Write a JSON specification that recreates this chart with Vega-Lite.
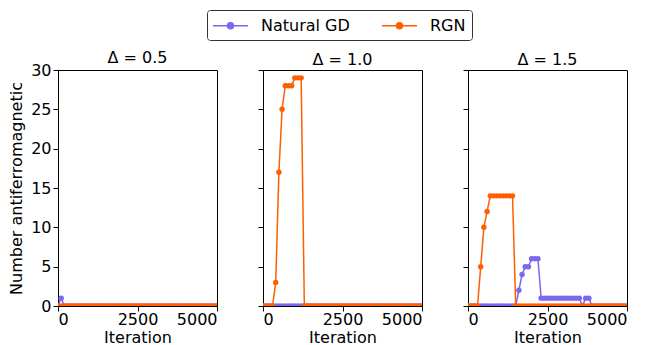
{
"$schema": "https://vega.github.io/schema/vega-lite/v6.json",
"padding": {"left": 8, "top": 9, "right": 5, "bottom": 1},
"datasets": {
"p05": [
{"method":"Natural GD","iteration":0,"count":0},{"method":"Natural GD","iteration":100,"count":1},{"method":"Natural GD","iteration":200,"count":0},{"method":"Natural GD","iteration":300,"count":0},{"method":"Natural GD","iteration":400,"count":0},{"method":"Natural GD","iteration":500,"count":0},{"method":"Natural GD","iteration":600,"count":0},{"method":"Natural GD","iteration":700,"count":0},{"method":"Natural GD","iteration":800,"count":0},{"method":"Natural GD","iteration":900,"count":0},
{"method":"Natural GD","iteration":1000,"count":0},{"method":"Natural GD","iteration":1100,"count":0},{"method":"Natural GD","iteration":1200,"count":0},{"method":"Natural GD","iteration":1300,"count":0},{"method":"Natural GD","iteration":1400,"count":0},{"method":"Natural GD","iteration":1500,"count":0},{"method":"Natural GD","iteration":1600,"count":0},{"method":"Natural GD","iteration":1700,"count":0},{"method":"Natural GD","iteration":1800,"count":0},{"method":"Natural GD","iteration":1900,"count":0},
{"method":"Natural GD","iteration":2000,"count":0},{"method":"Natural GD","iteration":2100,"count":0},{"method":"Natural GD","iteration":2200,"count":0},{"method":"Natural GD","iteration":2300,"count":0},{"method":"Natural GD","iteration":2400,"count":0},{"method":"Natural GD","iteration":2500,"count":0},{"method":"Natural GD","iteration":2600,"count":0},{"method":"Natural GD","iteration":2700,"count":0},{"method":"Natural GD","iteration":2800,"count":0},{"method":"Natural GD","iteration":2900,"count":0},
{"method":"Natural GD","iteration":3000,"count":0},{"method":"Natural GD","iteration":3100,"count":0},{"method":"Natural GD","iteration":3200,"count":0},{"method":"Natural GD","iteration":3300,"count":0},{"method":"Natural GD","iteration":3400,"count":0},{"method":"Natural GD","iteration":3500,"count":0},{"method":"Natural GD","iteration":3600,"count":0},{"method":"Natural GD","iteration":3700,"count":0},{"method":"Natural GD","iteration":3800,"count":0},{"method":"Natural GD","iteration":3900,"count":0},
{"method":"Natural GD","iteration":4000,"count":0},{"method":"Natural GD","iteration":4100,"count":0},{"method":"Natural GD","iteration":4200,"count":0},{"method":"Natural GD","iteration":4300,"count":0},{"method":"Natural GD","iteration":4400,"count":0},{"method":"Natural GD","iteration":4500,"count":0},{"method":"Natural GD","iteration":4600,"count":0},{"method":"Natural GD","iteration":4700,"count":0},{"method":"Natural GD","iteration":4800,"count":0},{"method":"Natural GD","iteration":4900,"count":0},{"method":"Natural GD","iteration":5000,"count":0},
{"method":"RGN","iteration":0,"count":0},{"method":"RGN","iteration":100,"count":0},{"method":"RGN","iteration":200,"count":0},{"method":"RGN","iteration":300,"count":0},{"method":"RGN","iteration":400,"count":0},{"method":"RGN","iteration":500,"count":0},{"method":"RGN","iteration":600,"count":0},{"method":"RGN","iteration":700,"count":0},{"method":"RGN","iteration":800,"count":0},{"method":"RGN","iteration":900,"count":0},
{"method":"RGN","iteration":1000,"count":0},{"method":"RGN","iteration":1100,"count":0},{"method":"RGN","iteration":1200,"count":0},{"method":"RGN","iteration":1300,"count":0},{"method":"RGN","iteration":1400,"count":0},{"method":"RGN","iteration":1500,"count":0},{"method":"RGN","iteration":1600,"count":0},{"method":"RGN","iteration":1700,"count":0},{"method":"RGN","iteration":1800,"count":0},{"method":"RGN","iteration":1900,"count":0},
{"method":"RGN","iteration":2000,"count":0},{"method":"RGN","iteration":2100,"count":0},{"method":"RGN","iteration":2200,"count":0},{"method":"RGN","iteration":2300,"count":0},{"method":"RGN","iteration":2400,"count":0},{"method":"RGN","iteration":2500,"count":0},{"method":"RGN","iteration":2600,"count":0},{"method":"RGN","iteration":2700,"count":0},{"method":"RGN","iteration":2800,"count":0},{"method":"RGN","iteration":2900,"count":0},
{"method":"RGN","iteration":3000,"count":0},{"method":"RGN","iteration":3100,"count":0},{"method":"RGN","iteration":3200,"count":0},{"method":"RGN","iteration":3300,"count":0},{"method":"RGN","iteration":3400,"count":0},{"method":"RGN","iteration":3500,"count":0},{"method":"RGN","iteration":3600,"count":0},{"method":"RGN","iteration":3700,"count":0},{"method":"RGN","iteration":3800,"count":0},{"method":"RGN","iteration":3900,"count":0},
{"method":"RGN","iteration":4000,"count":0},{"method":"RGN","iteration":4100,"count":0},{"method":"RGN","iteration":4200,"count":0},{"method":"RGN","iteration":4300,"count":0},{"method":"RGN","iteration":4400,"count":0},{"method":"RGN","iteration":4500,"count":0},{"method":"RGN","iteration":4600,"count":0},{"method":"RGN","iteration":4700,"count":0},{"method":"RGN","iteration":4800,"count":0},{"method":"RGN","iteration":4900,"count":0},{"method":"RGN","iteration":5000,"count":0}
],
"p10": [
{"method":"Natural GD","iteration":0,"count":0},{"method":"Natural GD","iteration":100,"count":0},{"method":"Natural GD","iteration":200,"count":0},{"method":"Natural GD","iteration":300,"count":0},{"method":"Natural GD","iteration":400,"count":0},{"method":"Natural GD","iteration":500,"count":0},{"method":"Natural GD","iteration":600,"count":0},{"method":"Natural GD","iteration":700,"count":0},{"method":"Natural GD","iteration":800,"count":0},{"method":"Natural GD","iteration":900,"count":0},
{"method":"Natural GD","iteration":1000,"count":0},{"method":"Natural GD","iteration":1100,"count":0},{"method":"Natural GD","iteration":1200,"count":0},{"method":"Natural GD","iteration":1300,"count":0},{"method":"Natural GD","iteration":1400,"count":0},{"method":"Natural GD","iteration":1500,"count":0},{"method":"Natural GD","iteration":1600,"count":0},{"method":"Natural GD","iteration":1700,"count":0},{"method":"Natural GD","iteration":1800,"count":0},{"method":"Natural GD","iteration":1900,"count":0},
{"method":"Natural GD","iteration":2000,"count":0},{"method":"Natural GD","iteration":2100,"count":0},{"method":"Natural GD","iteration":2200,"count":0},{"method":"Natural GD","iteration":2300,"count":0},{"method":"Natural GD","iteration":2400,"count":0},{"method":"Natural GD","iteration":2500,"count":0},{"method":"Natural GD","iteration":2600,"count":0},{"method":"Natural GD","iteration":2700,"count":0},{"method":"Natural GD","iteration":2800,"count":0},{"method":"Natural GD","iteration":2900,"count":0},
{"method":"Natural GD","iteration":3000,"count":0},{"method":"Natural GD","iteration":3100,"count":0},{"method":"Natural GD","iteration":3200,"count":0},{"method":"Natural GD","iteration":3300,"count":0},{"method":"Natural GD","iteration":3400,"count":0},{"method":"Natural GD","iteration":3500,"count":0},{"method":"Natural GD","iteration":3600,"count":0},{"method":"Natural GD","iteration":3700,"count":0},{"method":"Natural GD","iteration":3800,"count":0},{"method":"Natural GD","iteration":3900,"count":0},
{"method":"Natural GD","iteration":4000,"count":0},{"method":"Natural GD","iteration":4100,"count":0},{"method":"Natural GD","iteration":4200,"count":0},{"method":"Natural GD","iteration":4300,"count":0},{"method":"Natural GD","iteration":4400,"count":0},{"method":"Natural GD","iteration":4500,"count":0},{"method":"Natural GD","iteration":4600,"count":0},{"method":"Natural GD","iteration":4700,"count":0},{"method":"Natural GD","iteration":4800,"count":0},{"method":"Natural GD","iteration":4900,"count":0},{"method":"Natural GD","iteration":5000,"count":0},
{"method":"RGN","iteration":0,"count":0},{"method":"RGN","iteration":100,"count":0},{"method":"RGN","iteration":200,"count":0},{"method":"RGN","iteration":300,"count":0},{"method":"RGN","iteration":400,"count":3},{"method":"RGN","iteration":500,"count":17},{"method":"RGN","iteration":600,"count":25},{"method":"RGN","iteration":700,"count":28},{"method":"RGN","iteration":800,"count":28},{"method":"RGN","iteration":900,"count":28},
{"method":"RGN","iteration":1000,"count":29},{"method":"RGN","iteration":1100,"count":29},{"method":"RGN","iteration":1200,"count":29},{"method":"RGN","iteration":1300,"count":0},{"method":"RGN","iteration":1400,"count":0},{"method":"RGN","iteration":1500,"count":0},{"method":"RGN","iteration":1600,"count":0},{"method":"RGN","iteration":1700,"count":0},{"method":"RGN","iteration":1800,"count":0},{"method":"RGN","iteration":1900,"count":0},
{"method":"RGN","iteration":2000,"count":0},{"method":"RGN","iteration":2100,"count":0},{"method":"RGN","iteration":2200,"count":0},{"method":"RGN","iteration":2300,"count":0},{"method":"RGN","iteration":2400,"count":0},{"method":"RGN","iteration":2500,"count":0},{"method":"RGN","iteration":2600,"count":0},{"method":"RGN","iteration":2700,"count":0},{"method":"RGN","iteration":2800,"count":0},{"method":"RGN","iteration":2900,"count":0},
{"method":"RGN","iteration":3000,"count":0},{"method":"RGN","iteration":3100,"count":0},{"method":"RGN","iteration":3200,"count":0},{"method":"RGN","iteration":3300,"count":0},{"method":"RGN","iteration":3400,"count":0},{"method":"RGN","iteration":3500,"count":0},{"method":"RGN","iteration":3600,"count":0},{"method":"RGN","iteration":3700,"count":0},{"method":"RGN","iteration":3800,"count":0},{"method":"RGN","iteration":3900,"count":0},
{"method":"RGN","iteration":4000,"count":0},{"method":"RGN","iteration":4100,"count":0},{"method":"RGN","iteration":4200,"count":0},{"method":"RGN","iteration":4300,"count":0},{"method":"RGN","iteration":4400,"count":0},{"method":"RGN","iteration":4500,"count":0},{"method":"RGN","iteration":4600,"count":0},{"method":"RGN","iteration":4700,"count":0},{"method":"RGN","iteration":4800,"count":0},{"method":"RGN","iteration":4900,"count":0},{"method":"RGN","iteration":5000,"count":0}
],
"p15": [
{"method":"Natural GD","iteration":0,"count":0},{"method":"Natural GD","iteration":100,"count":0},{"method":"Natural GD","iteration":200,"count":0},{"method":"Natural GD","iteration":300,"count":0},{"method":"Natural GD","iteration":400,"count":0},{"method":"Natural GD","iteration":500,"count":0},{"method":"Natural GD","iteration":600,"count":0},{"method":"Natural GD","iteration":700,"count":0},{"method":"Natural GD","iteration":800,"count":0},{"method":"Natural GD","iteration":900,"count":0},
{"method":"Natural GD","iteration":1000,"count":0},{"method":"Natural GD","iteration":1100,"count":0},{"method":"Natural GD","iteration":1200,"count":0},{"method":"Natural GD","iteration":1300,"count":0},{"method":"Natural GD","iteration":1400,"count":0},{"method":"Natural GD","iteration":1500,"count":0},{"method":"Natural GD","iteration":1600,"count":2},{"method":"Natural GD","iteration":1700,"count":4},{"method":"Natural GD","iteration":1800,"count":5},{"method":"Natural GD","iteration":1900,"count":5},
{"method":"Natural GD","iteration":2000,"count":6},{"method":"Natural GD","iteration":2100,"count":6},{"method":"Natural GD","iteration":2200,"count":6},{"method":"Natural GD","iteration":2300,"count":1},{"method":"Natural GD","iteration":2400,"count":1},{"method":"Natural GD","iteration":2500,"count":1},{"method":"Natural GD","iteration":2600,"count":1},{"method":"Natural GD","iteration":2700,"count":1},{"method":"Natural GD","iteration":2800,"count":1},{"method":"Natural GD","iteration":2900,"count":1},
{"method":"Natural GD","iteration":3000,"count":1},{"method":"Natural GD","iteration":3100,"count":1},{"method":"Natural GD","iteration":3200,"count":1},{"method":"Natural GD","iteration":3300,"count":1},{"method":"Natural GD","iteration":3400,"count":1},{"method":"Natural GD","iteration":3500,"count":1},{"method":"Natural GD","iteration":3600,"count":0},{"method":"Natural GD","iteration":3700,"count":1},{"method":"Natural GD","iteration":3800,"count":1},{"method":"Natural GD","iteration":3900,"count":0},
{"method":"Natural GD","iteration":4000,"count":0},{"method":"Natural GD","iteration":4100,"count":0},{"method":"Natural GD","iteration":4200,"count":0},{"method":"Natural GD","iteration":4300,"count":0},{"method":"Natural GD","iteration":4400,"count":0},{"method":"Natural GD","iteration":4500,"count":0},{"method":"Natural GD","iteration":4600,"count":0},{"method":"Natural GD","iteration":4700,"count":0},{"method":"Natural GD","iteration":4800,"count":0},{"method":"Natural GD","iteration":4900,"count":0},{"method":"Natural GD","iteration":5000,"count":0},
{"method":"RGN","iteration":0,"count":0},{"method":"RGN","iteration":100,"count":0},{"method":"RGN","iteration":200,"count":0},{"method":"RGN","iteration":300,"count":0},{"method":"RGN","iteration":400,"count":5},{"method":"RGN","iteration":500,"count":10},{"method":"RGN","iteration":600,"count":12},{"method":"RGN","iteration":700,"count":14},{"method":"RGN","iteration":800,"count":14},{"method":"RGN","iteration":900,"count":14},
{"method":"RGN","iteration":1000,"count":14},{"method":"RGN","iteration":1100,"count":14},{"method":"RGN","iteration":1200,"count":14},{"method":"RGN","iteration":1300,"count":14},{"method":"RGN","iteration":1400,"count":14},{"method":"RGN","iteration":1500,"count":0},{"method":"RGN","iteration":1600,"count":0},{"method":"RGN","iteration":1700,"count":0},{"method":"RGN","iteration":1800,"count":0},{"method":"RGN","iteration":1900,"count":0},
{"method":"RGN","iteration":2000,"count":0},{"method":"RGN","iteration":2100,"count":0},{"method":"RGN","iteration":2200,"count":0},{"method":"RGN","iteration":2300,"count":0},{"method":"RGN","iteration":2400,"count":0},{"method":"RGN","iteration":2500,"count":0},{"method":"RGN","iteration":2600,"count":0},{"method":"RGN","iteration":2700,"count":0},{"method":"RGN","iteration":2800,"count":0},{"method":"RGN","iteration":2900,"count":0},
{"method":"RGN","iteration":3000,"count":0},{"method":"RGN","iteration":3100,"count":0},{"method":"RGN","iteration":3200,"count":0},{"method":"RGN","iteration":3300,"count":0},{"method":"RGN","iteration":3400,"count":0},{"method":"RGN","iteration":3500,"count":0},{"method":"RGN","iteration":3600,"count":0},{"method":"RGN","iteration":3700,"count":0},{"method":"RGN","iteration":3800,"count":0},{"method":"RGN","iteration":3900,"count":0},
{"method":"RGN","iteration":4000,"count":0},{"method":"RGN","iteration":4100,"count":0},{"method":"RGN","iteration":4200,"count":0},{"method":"RGN","iteration":4300,"count":0},{"method":"RGN","iteration":4400,"count":0},{"method":"RGN","iteration":4500,"count":0},{"method":"RGN","iteration":4600,"count":0},{"method":"RGN","iteration":4700,"count":0},{"method":"RGN","iteration":4800,"count":0},{"method":"RGN","iteration":4900,"count":0},{"method":"RGN","iteration":5000,"count":0}
]
},
"config": {
"font": "DejaVu Sans",
"view": {"stroke": "black", "strokeWidth": 1},
"axis": {"grid": false, "domain": false, "tickColor": "black", "tickSize": 5, "tickWidth": 1, "labelFontSize": 16, "titleFontSize": 16, "labelColor": "black", "titleColor": "black", "titleFontWeight": "normal", "labelFont": "DejaVu Sans", "titleFont": "DejaVu Sans"},
"axisX": {"labelPadding": 0, "titlePadding": 2},
"axisY": {"labelPadding": 2, "titlePadding": 6},
"title": {"fontSize": 16, "fontWeight": "normal", "font": "DejaVu Sans", "color": "black"},
"legend": {"labelFontSize": 16, "labelFont": "DejaVu Sans", "labelColor": "black"}
},
"spacing": 39,
"resolve": {"scale": {"color": "shared"}},
"hconcat": [
{
"width": 159, "height": 236,
"title": {"text": "Δ = 0.5", "offset": -4},
"data": {"name": "p05"},
"encoding": {
"x": {"field": "iteration", "type": "quantitative", "scale": {"domain": [0, 5000], "nice": false}, "axis": {"values": [0, 2500, 5000], "format": "d", "title": "Iteration"}},
"y": {"field": "count", "type": "quantitative", "scale": {"domain": [0, 30], "nice": false}, "axis": {"values": [0, 5, 10, 15, 20, 25, 30], "title": "Number antiferromagnetic"}},
"color": {"field": "method", "type": "nominal", "scale": {"domain": ["Natural GD", "RGN"], "range": ["#7b68ee", "#ff5f00"]},
  "legend": {"orient": "none", "legendX": 149, "legendY": -60, "direction": "horizontal", "title": null, "strokeColor": "#333333", "padding": 6, "cornerRadius": 3, "symbolType": "M-2,0H2M-0.34,0A0.34,0.34,0,1,1,0.34,0A0.34,0.34,0,1,1,-0.34,0Z", "symbolSize": 306, "symbolStrokeWidth": 1.5, "symbolOffset": 8, "columnPadding": 29, "labelOffset": 21}}
},
"layer": [
{"mark": {"type": "line", "strokeWidth": 1.5, "clip": true}},
{"mark": {"type": "point", "filled": true, "size": 30, "opacity": 1, "clip": true}}
]
},
{
"width": 159, "height": 236,
"title": {"text": "Δ = 1.0", "offset": 2},
"data": {"name": "p10"},
"encoding": {
"x": {"field": "iteration", "type": "quantitative", "scale": {"domain": [0, 5000], "nice": false}, "axis": {"values": [0, 2500, 5000], "format": "d", "title": "Iteration"}},
"y": {"field": "count", "type": "quantitative", "scale": {"domain": [0, 30], "nice": false}, "axis": {"values": [0, 5, 10, 15, 20, 25, 30], "labels": false, "title": null}},
"color": {"field": "method", "type": "nominal", "scale": {"domain": ["Natural GD", "RGN"], "range": ["#7b68ee", "#ff5f00"]},
  "legend": {"orient": "none", "legendX": 149, "legendY": -60, "direction": "horizontal", "title": null, "strokeColor": "#333333", "padding": 6, "cornerRadius": 3, "symbolType": "M-2,0H2M-0.34,0A0.34,0.34,0,1,1,0.34,0A0.34,0.34,0,1,1,-0.34,0Z", "symbolSize": 306, "symbolStrokeWidth": 1.5, "symbolOffset": 8, "columnPadding": 29, "labelOffset": 21}}
},
"layer": [
{"mark": {"type": "line", "strokeWidth": 1.5, "clip": true}},
{"mark": {"type": "point", "filled": true, "size": 30, "opacity": 1, "clip": true}}
]
},
{
"width": 159, "height": 236,
"title": {"text": "Δ = 1.5", "offset": 2},
"data": {"name": "p15"},
"encoding": {
"x": {"field": "iteration", "type": "quantitative", "scale": {"domain": [0, 5000], "nice": false}, "axis": {"values": [0, 2500, 5000], "format": "d", "title": "Iteration"}},
"y": {"field": "count", "type": "quantitative", "scale": {"domain": [0, 30], "nice": false}, "axis": {"values": [0, 5, 10, 15, 20, 25, 30], "labels": false, "title": null}},
"color": {"field": "method", "type": "nominal", "scale": {"domain": ["Natural GD", "RGN"], "range": ["#7b68ee", "#ff5f00"]},
  "legend": {"orient": "none", "legendX": 149, "legendY": -60, "direction": "horizontal", "title": null, "strokeColor": "#333333", "padding": 6, "cornerRadius": 3, "symbolType": "M-2,0H2M-0.34,0A0.34,0.34,0,1,1,0.34,0A0.34,0.34,0,1,1,-0.34,0Z", "symbolSize": 306, "symbolStrokeWidth": 1.5, "symbolOffset": 8, "columnPadding": 29, "labelOffset": 21}}
},
"layer": [
{"mark": {"type": "line", "strokeWidth": 1.5, "clip": true}},
{"mark": {"type": "point", "filled": true, "size": 30, "opacity": 1, "clip": true}}
]
}
]
}
